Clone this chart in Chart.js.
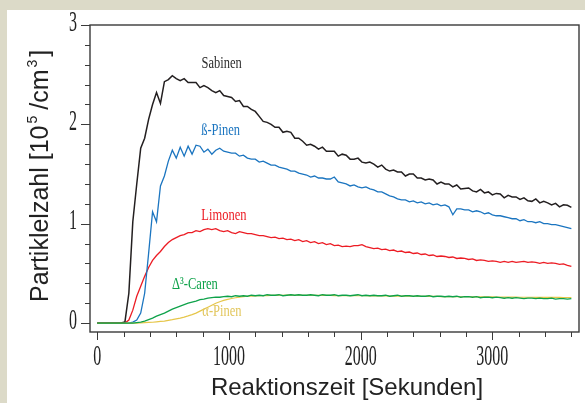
<!DOCTYPE html>
<html>
<head>
<meta charset="utf-8">
<script src="https://cdn.jsdelivr.net/npm/chart.js@4.4.1/dist/chart.umd.min.js"></script>
<style>
  html, body { margin: 0; padding: 0; background: #dcdac8; }
  #wrap { width: 585px; height: 403px; }
  canvas { display: block; }
</style>
</head>
<body>
<div id="wrap"><canvas id="chart" width="585" height="403"></canvas></div>
<script>
// Reaction time in seconds (one sample every 30 s)
const timeSec = [
  0, 30, 60, 90, 120, 150, 180, 210, 240, 270,
  300, 330, 360, 390, 420, 450, 480, 510, 540, 570,
  600, 630, 660, 690, 720, 750, 780, 810, 840, 870,
  900, 930, 960, 990, 1020, 1050, 1080, 1110, 1140, 1170,
  1200, 1230, 1260, 1290, 1320, 1350, 1380, 1410, 1440, 1470,
  1500, 1530, 1560, 1590, 1620, 1650, 1680, 1710, 1740, 1770,
  1800, 1830, 1860, 1890, 1920, 1950, 1980, 2010, 2040, 2070,
  2100, 2130, 2160, 2190, 2220, 2250, 2280, 2310, 2340, 2370,
  2400, 2430, 2460, 2490, 2520, 2550, 2580, 2610, 2640, 2670,
  2700, 2730, 2760, 2790, 2820, 2850, 2880, 2910, 2940, 2970,
  3000, 3030, 3060, 3090, 3120, 3150, 3180, 3210, 3240, 3270,
  3300, 3330, 3360, 3390, 3420, 3450, 3480, 3510, 3540, 3570,
  3600
];

// Particle number, 10^5 per cm^3
const sabinen = [
  0, 0, 0, 0, 0, 0, 0, 0.01,
  0.30, 1.02, 1.40, 1.76, 1.86, 2.05, 2.20, 2.32, 2.21, 2.43, 2.45, 2.49,
  2.46, 2.44, 2.46, 2.42, 2.42, 2.42, 2.37, 2.39, 2.37, 2.34,
  2.32, 2.34, 2.29, 2.28, 2.27, 2.23, 2.24, 2.18, 2.18, 2.15,
  2.13, 2.08, 2.03, 2.02, 2.00, 1.97, 1.97, 1.92, 1.93, 1.92,
  1.86, 1.86, 1.83, 1.79, 1.80, 1.78, 1.75, 1.77, 1.73, 1.73,
  1.73, 1.68, 1.70, 1.69, 1.65, 1.65, 1.66, 1.62, 1.61, 1.62,
  1.60, 1.57, 1.59, 1.55, 1.53, 1.54, 1.52, 1.52, 1.48, 1.50,
  1.50, 1.46, 1.46, 1.44, 1.45, 1.44, 1.40, 1.42, 1.40, 1.40,
  1.37, 1.39, 1.35, 1.355, 1.36, 1.33, 1.32, 1.345, 1.31, 1.32,
  1.29, 1.305, 1.30, 1.26, 1.285, 1.27, 1.27, 1.245, 1.26, 1.23,
  1.225, 1.25, 1.21, 1.225, 1.21, 1.19, 1.205, 1.17, 1.19, 1.185,
  1.165
];
const betaPinen = [
  0, 0, 0, 0, 0, 0, 0, 0, 0, 0.01,
  0.03, 0.10, 0.30, 0.70, 1.12, 1.02, 1.38, 1.48, 1.63, 1.74,
  1.66, 1.77, 1.68, 1.78, 1.70, 1.79, 1.78, 1.72, 1.75, 1.70,
  1.74, 1.76, 1.73, 1.72, 1.71, 1.71, 1.68, 1.69, 1.66, 1.65,
  1.65, 1.62, 1.63, 1.61, 1.59, 1.59, 1.57, 1.56, 1.55, 1.53,
  1.53, 1.51, 1.50, 1.49, 1.47, 1.48, 1.46, 1.46, 1.45, 1.45,
  1.47, 1.42, 1.41, 1.40, 1.38, 1.39, 1.37, 1.36, 1.37, 1.35,
  1.34, 1.32, 1.32, 1.30, 1.28, 1.27, 1.25, 1.24, 1.24, 1.22,
  1.23, 1.21, 1.22, 1.20, 1.21, 1.19, 1.20, 1.18, 1.19, 1.17,
  1.09, 1.15, 1.15, 1.14, 1.14, 1.12, 1.13, 1.12, 1.10, 1.11,
  1.09, 1.08, 1.08, 1.07, 1.06, 1.05, 1.05, 1.03, 1.04, 1.02,
  1.02, 1.01, 1.02, 1.00, 1.00, 0.99, 0.99, 0.98, 0.97, 0.96,
  0.95
];
const limonen = [
  0, 0, 0, 0, 0, 0, 0, 0, 0.03, 0.13,
  0.27, 0.37, 0.47, 0.56, 0.63, 0.68, 0.72, 0.77, 0.81, 0.84,
  0.86, 0.88, 0.89, 0.91, 0.91, 0.93, 0.92, 0.94, 0.95, 0.94,
  0.95, 0.93, 0.92, 0.93, 0.91, 0.90, 0.92, 0.91, 0.90, 0.90,
  0.89, 0.88, 0.88, 0.87, 0.86, 0.865, 0.85, 0.855, 0.84, 0.845,
  0.83, 0.84, 0.82, 0.83, 0.81, 0.82, 0.80, 0.81, 0.79, 0.80,
  0.78, 0.785, 0.77, 0.775, 0.77, 0.78, 0.78, 0.79, 0.77, 0.76,
  0.75, 0.755, 0.74, 0.745, 0.73, 0.735, 0.72, 0.725, 0.71, 0.715,
  0.70, 0.705, 0.69, 0.695, 0.68, 0.685, 0.67, 0.675, 0.67, 0.66,
  0.665, 0.65, 0.655, 0.65, 0.64, 0.645, 0.63, 0.635, 0.63, 0.62,
  0.625, 0.62, 0.61, 0.62, 0.61, 0.62, 0.61, 0.615, 0.62, 0.61,
  0.615, 0.61, 0.60, 0.61, 0.60, 0.605, 0.60, 0.59, 0.595, 0.58,
  0.57
];
const delta3Caren = [
  0, 0, 0, 0, 0, 0, 0, 0, 0, 0,
  0.005, 0.01, 0.02, 0.035, 0.05, 0.07, 0.085, 0.10, 0.12, 0.14,
  0.155, 0.17, 0.185, 0.20, 0.21, 0.22, 0.235, 0.24, 0.25, 0.255,
  0.26, 0.26, 0.265, 0.27, 0.265, 0.275, 0.27, 0.275, 0.27, 0.28,
  0.275, 0.28, 0.275, 0.285, 0.28, 0.28, 0.285, 0.275, 0.28, 0.285,
  0.28, 0.285, 0.28, 0.28, 0.285, 0.28, 0.275, 0.285, 0.28, 0.28,
  0.285, 0.275, 0.28, 0.28, 0.275, 0.28, 0.285, 0.275, 0.28, 0.275,
  0.28, 0.275, 0.275, 0.28, 0.27, 0.275, 0.28, 0.27, 0.275, 0.275,
  0.27, 0.275, 0.27, 0.27, 0.275, 0.265, 0.27, 0.27, 0.265, 0.27,
  0.265, 0.27, 0.26, 0.265, 0.265, 0.26, 0.265, 0.255, 0.26, 0.26,
  0.255, 0.26, 0.255, 0.25, 0.255, 0.25, 0.255, 0.25, 0.245, 0.25,
  0.25, 0.245, 0.25, 0.245, 0.245, 0.25, 0.24, 0.245, 0.245, 0.24,
  0.245
];
const alphaPinen = [
  0, 0, 0, 0, 0, 0, 0, 0, 0, 0,
  0, 0.002, 0.004, 0.006, 0.008, 0.012, 0.016, 0.02, 0.027, 0.034,
  0.042, 0.05, 0.06, 0.072, 0.085, 0.10, 0.12, 0.14, 0.16, 0.18,
  0.20, 0.215, 0.228, 0.238, 0.247, 0.255, 0.261, 0.266, 0.27, 0.272,
  0.274, 0.275, 0.276, 0.277, 0.278, 0.279, 0.28, 0.28, 0.281, 0.281,
  0.28, 0.281, 0.28, 0.28, 0.28, 0.279, 0.279, 0.278, 0.278, 0.278,
  0.277, 0.277, 0.277, 0.276, 0.276, 0.276, 0.275, 0.275, 0.275, 0.274,
  0.274, 0.274, 0.273, 0.273, 0.272, 0.272, 0.272, 0.271, 0.271, 0.27,
  0.27, 0.27, 0.269, 0.269, 0.268, 0.268, 0.268, 0.267, 0.267, 0.266,
  0.266, 0.266, 0.265, 0.265, 0.265, 0.264, 0.264, 0.264, 0.263, 0.263,
  0.263, 0.262, 0.262, 0.262, 0.261, 0.261, 0.261, 0.26, 0.26, 0.26,
  0.26, 0.259, 0.259, 0.259, 0.258, 0.258, 0.258, 0.258, 0.257, 0.257,
  0.257
];

const seriesNames = ['Sabinen', 'ß-Pinen', 'Limonen', 'Δ³-Caren', 'α-Pinen'];

// Axis ticks
const xMajorTicks = [0, 1000, 2000, 3000];
const xTickLabels = ['0', '1000', '2000', '3000'];
const xMinorTicks = [200, 400, 600, 800, 1200, 1400, 1600, 1800, 2200, 2400, 2600, 2800, 3200, 3400, 3600];
const yMajorTicks = [0, 1, 2, 3];
const yTickLabels = ['0', '1', '2', '3'];
const yMinorTicks = [0.2, 0.4, 0.6, 0.8, 1.2, 1.4, 1.6, 1.8, 2.2, 2.4, 2.6, 2.8];

const colors = ['#231f20', '#1b75c0', '#ec1c24', '#0ea24a', '#e6c64a'];
const widths = [1.5, 1.3, 1.3, 1.3, 1.2];
const allSeries = [sabinen, betaPinen, limonen, delta3Caren, alphaPinen];

const toPoints = arr => timeSec.map((t, i) => ({ x: t, y: arr[i] }));

// Draw order: green on top of yellow
const datasets = allSeries.map((arr, k) => ({
  label: seriesNames[k],
  data: toPoints(arr),
  borderColor: colors[k],
  borderWidth: widths[k],
  pointRadius: 0,
  tension: 0,
  fill: false,
  order: k === 3 ? 0 : (k === 4 ? 1 : 2 + k)
}));

// Where each curve name is written (data space)
const nameAnchors = [
  { t: 945, v: 2.61, color: '#2b2b2b' },
  { t: 937, v: 1.935, color: '#1b75c0' },
  { t: 962, v: 1.08, color: '#ec1c24' },
  { t: 742, v: 0.39, color: '#0ea24a' },
  { t: 947, v: 0.115, color: '#e2c65c' }
];

function tallText(ctx, text, x, y, font, sy, align) {
  ctx.save();
  ctx.translate(x, y);
  ctx.scale(1, sy);
  ctx.font = font;
  ctx.textAlign = align;
  ctx.textBaseline = 'middle';
  ctx.fillText(text, 0, 0);
  ctx.restore();
}

const frame = {
  id: 'frame',
  beforeDraw(chart) {
    const ctx = chart.ctx;
    ctx.save();
    ctx.fillStyle = '#dcdac8';
    ctx.fillRect(0, 0, chart.width, chart.height);
    ctx.fillStyle = '#ffffff';
    ctx.fillRect(7, 10, chart.width - 7, chart.height - 10);
    ctx.restore();
  },
  afterDraw(chart) {
    const ctx = chart.ctx;
    const a = chart.chartArea;
    const xs = chart.scales.x, ys = chart.scales.y;
    ctx.save();
    // plot frame
    ctx.strokeStyle = '#3a3a3a';
    ctx.lineWidth = 1.4;
    ctx.strokeRect(a.left, a.top, a.right - a.left, a.bottom - a.top);

    // x tick marks
    ctx.lineWidth = 1;
    ctx.beginPath();
    xMajorTicks.forEach(v => { const p = Math.round(xs.getPixelForValue(v)) + 0.5; ctx.moveTo(p, a.bottom); ctx.lineTo(p, a.bottom + 8); });
    xMinorTicks.forEach(v => { const p = Math.round(xs.getPixelForValue(v)) + 0.5; ctx.moveTo(p, a.bottom); ctx.lineTo(p, a.bottom + 5); });
    // y tick marks
    yMajorTicks.forEach(v => { const p = Math.round(ys.getPixelForValue(v)) + 0.5; ctx.moveTo(a.left, p); ctx.lineTo(a.left - 9, p); });
    yMinorTicks.forEach(v => { const p = Math.round(ys.getPixelForValue(v)) + 0.5; ctx.moveTo(a.left, p); ctx.lineTo(a.left - 5, p); });
    ctx.stroke();

    // tick labels (tall, narrow serif digits)
    ctx.fillStyle = '#222222';
    xMajorTicks.forEach((v, i) => {
      tallText(ctx, xTickLabels[i], xs.getPixelForValue(v), a.bottom + 25, '16px "Liberation Serif"', 1.8, 'center');
    });
    yMajorTicks.forEach((v, i) => {
      tallText(ctx, yTickLabels[i], a.left - 13, ys.getPixelForValue(v) - 2, '16px "Liberation Serif"', 1.8, 'right');
    });

    // x axis title
    ctx.font = '24px "Liberation Sans"';
    ctx.textAlign = 'center';
    ctx.textBaseline = 'alphabetic';
    ctx.fillStyle = '#222222';
    ctx.fillText('Reaktionszeit [Sekunden]', 347, 395);

    // y axis title with superscripts, reading bottom to top
    ctx.save();
    ctx.translate(48, 302);
    ctx.rotate(-Math.PI / 2);
    ctx.textAlign = 'left';
    const parts = [
      { s: 'Partiklelzahl [10', f: '25px "Liberation Sans"', dy: 0, gap: 2 },
      { s: '5', f: '14px "Liberation Sans"', dy: -11, gap: 6 },
      { s: '/cm', f: '25px "Liberation Sans"', dy: 0, gap: 2 },
      { s: '3', f: '14px "Liberation Sans"', dy: -11, gap: 3 },
      { s: ']', f: '25px "Liberation Sans"', dy: 0, gap: 0 }
    ];
    let cx = 0;
    parts.forEach(p => {
      ctx.font = p.f;
      ctx.fillText(p.s, cx, p.dy);
      cx += ctx.measureText(p.s).width + p.gap;
    });
    ctx.restore();

    // curve names
    nameAnchors.forEach((n, k) => {
      ctx.fillStyle = n.color;
      tallText(ctx, seriesNames[k], xs.getPixelForValue(n.t), ys.getPixelForValue(n.v), '12.5px "Liberation Serif"', 1.35, 'center');
    });
    ctx.restore();
  }
};

new Chart(document.getElementById('chart'), {
  type: 'line',
  data: { datasets },
  options: {
    responsive: false,
    animation: false,
    devicePixelRatio: 1,
    parsing: false,
    layout: { padding: { top: 25, right: 6, left: 0, bottom: 0 } },
    plugins: { legend: { display: false }, tooltip: { enabled: false } },
    scales: {
      x: {
        type: 'linear',
        min: -55,
        max: 3658,
        grid: { display: false },
        border: { display: false },
        ticks: { display: false },
        afterFit: s => { s.height = 71; }
      },
      y: {
        type: 'linear',
        min: -0.09,
        max: 3,
        grid: { display: false },
        border: { display: false },
        ticks: { display: false },
        afterFit: s => { s.width = 90; }
      }
    }
  },
  plugins: [frame]
});
</script>
</body>
</html>
